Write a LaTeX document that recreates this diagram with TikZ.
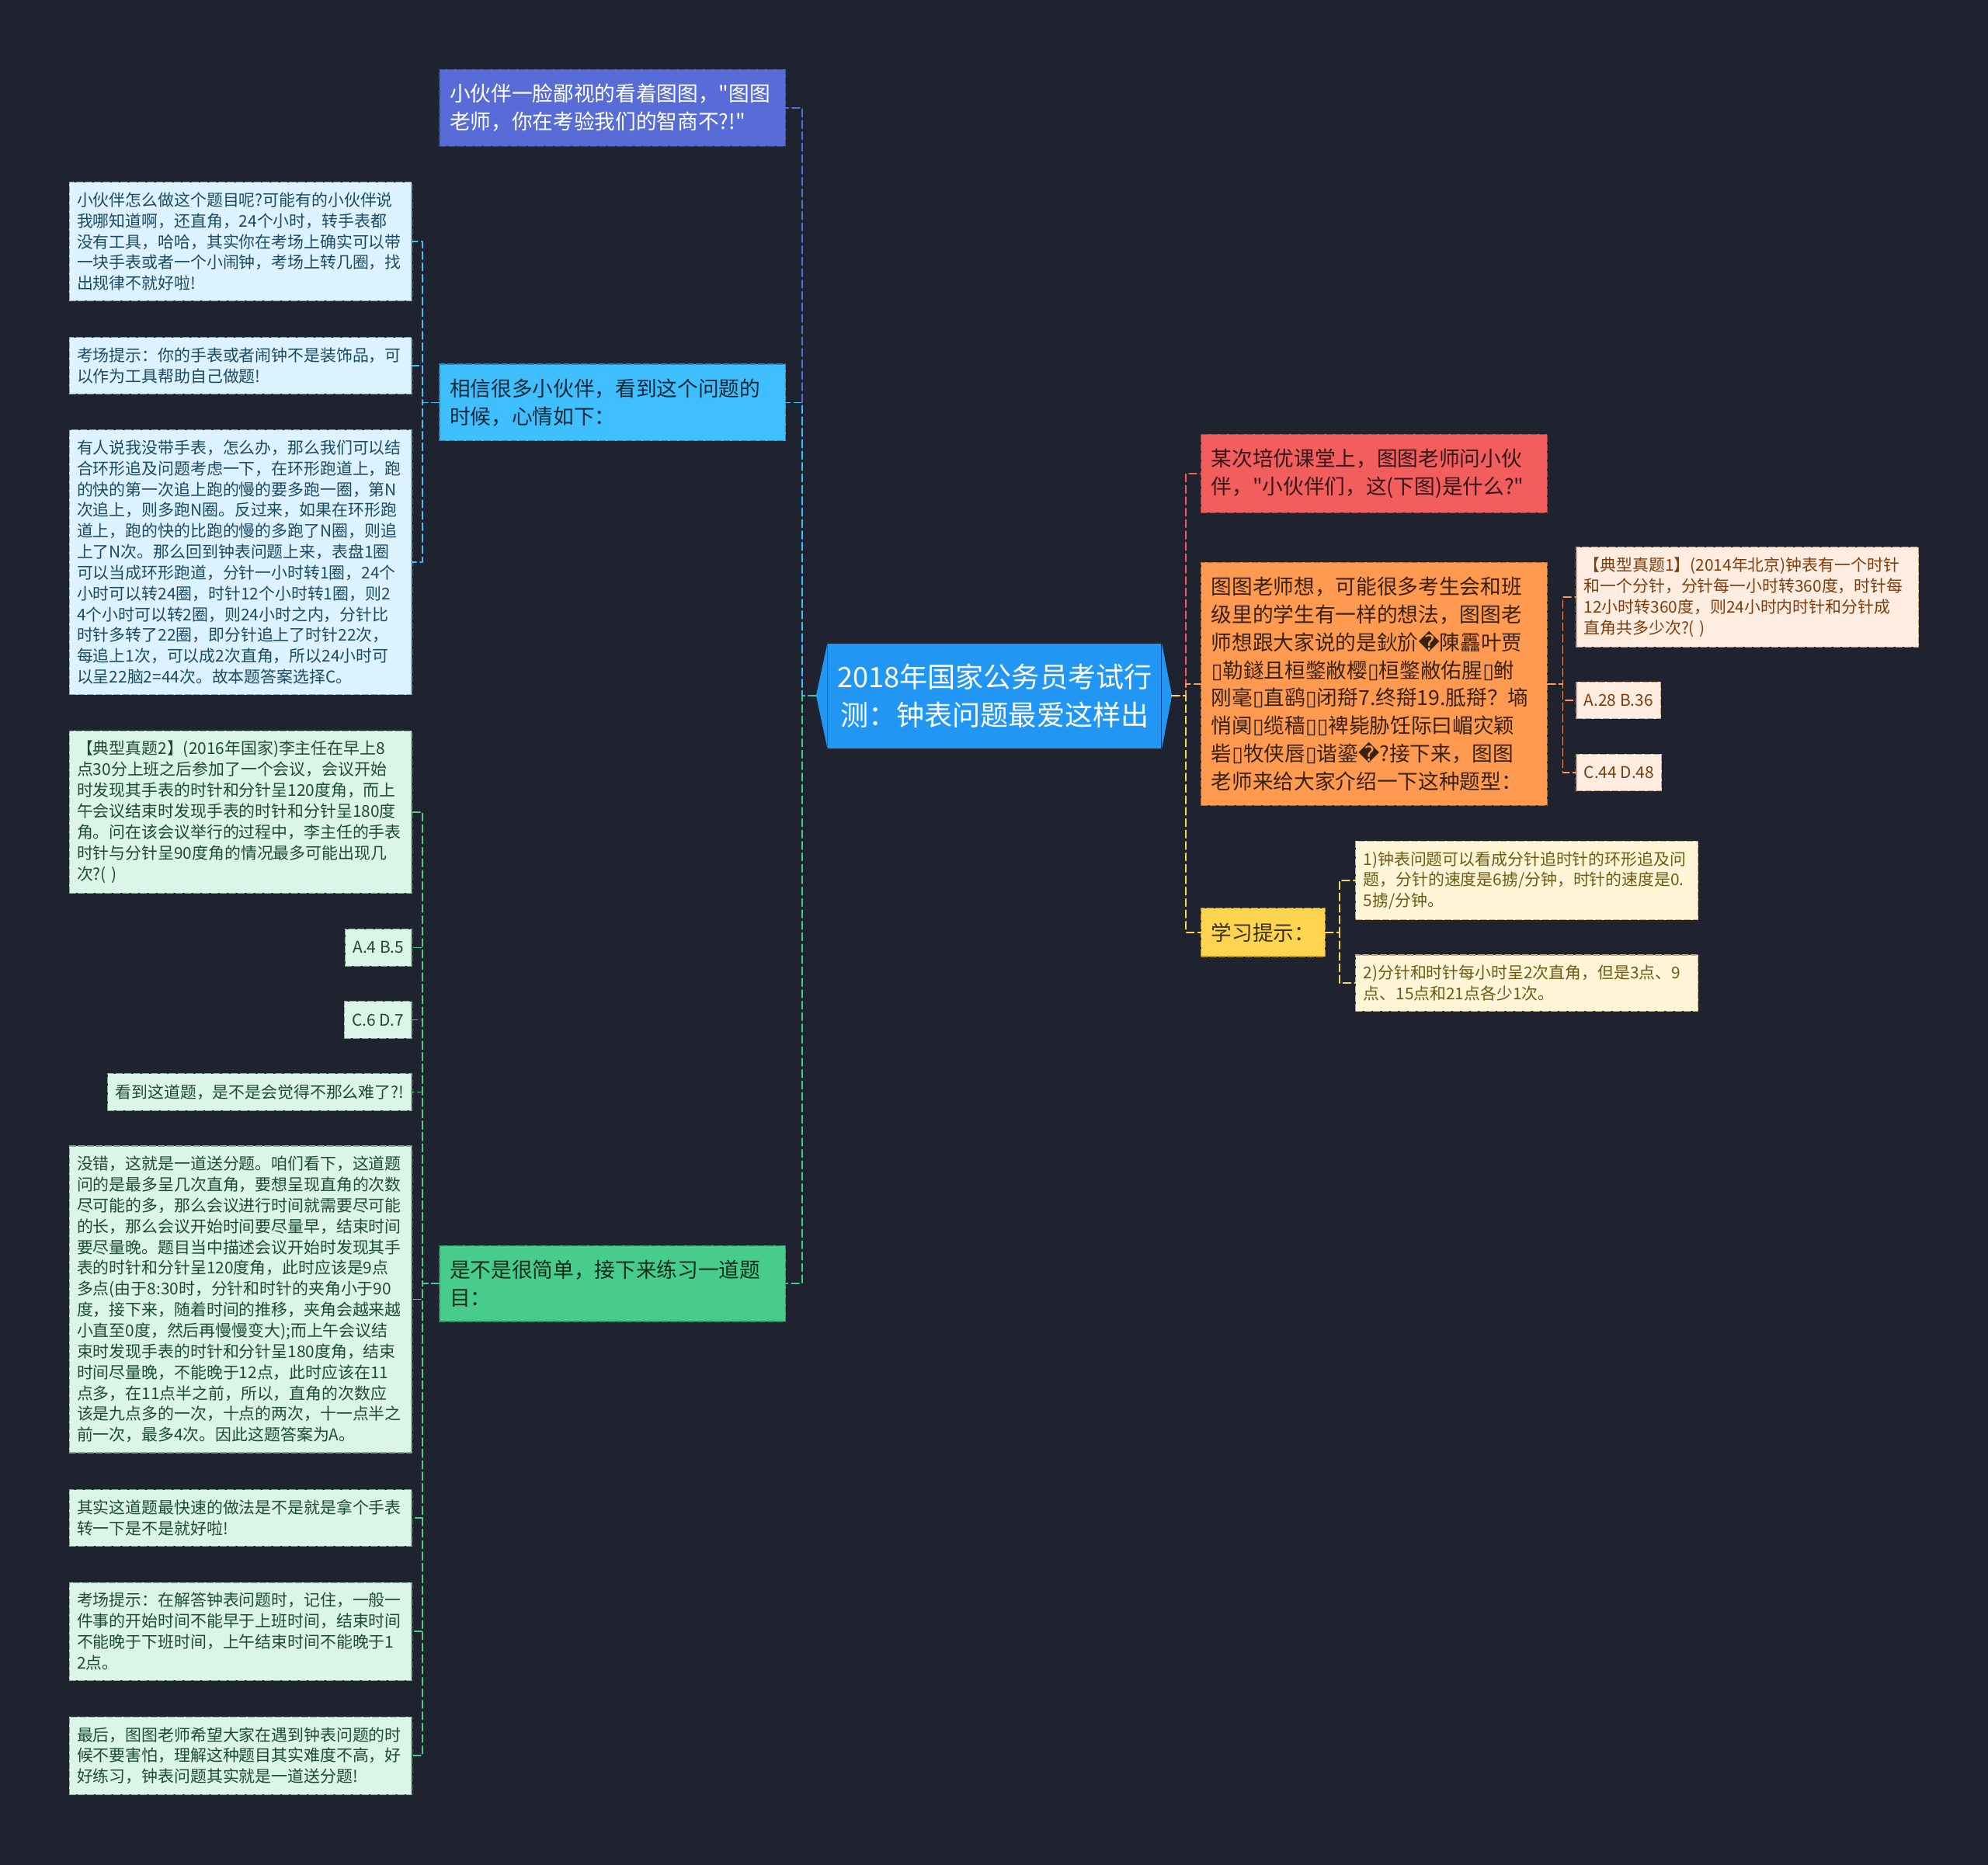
\documentclass[tikz,border=0pt]{standalone}
\usepackage{fontspec}
\newfontfamily\cjkfont{Noto Sans CJK SC}
\newfontfamily\symfont{DejaVu Sans}
\newcommand\tofu{{\symfont ▯}}
\newcommand\qbox{{\symfont �}}
\definecolor{bgc}{HTML}{1F2330}
\definecolor{rootc}{HTML}{2196F3}
\definecolor{purc}{HTML}{576CD6}
\definecolor{cyac}{HTML}{40BFFF}
\definecolor{grnc}{HTML}{48CC8C}
\definecolor{redc}{HTML}{F25E5E}
\definecolor{orac}{HTML}{FF9A50}
\definecolor{yelc}{HTML}{FFD54F}
\definecolor{cyal}{HTML}{DDF3FF}
\definecolor{grnl}{HTML}{DCF5E9}
\definecolor{oral}{HTML}{FFEDE2}
\definecolor{yell}{HTML}{FFF6D8}
\definecolor{cyat}{HTML}{1B4A66}
\definecolor{grnt}{HTML}{1D4B34}
\definecolor{orat}{HTML}{7F3C0A}
\definecolor{yelt}{HTML}{6E5A14}
\begin{document}
\begin{tikzpicture}[x=0.02cm,y=-0.02cm,line join=round,line cap=round]
	\tikzset{rootbox/.style={fill=rootc,text=white,align=center,inner sep=0pt,minimum width=5.26cm,minimum height=1.66cm,font=\cjkfont\fontsize{12.6}{17}\selectfont},
		lvone/.style={fill=#1,draw=#1!70!black,text=#1!22!black,dash pattern=on 0.1cm off 0.04cm,line width=0.4pt,align=left,inner xsep=0.16cm,inner ysep=0.23cm,font=\cjkfont\fontsize{9.3}{12.5}\selectfont},
		wideone/.style={text width=5.14cm},
		lvtwo/.style 2 args={fill=#1,draw=#2!45!#1,text=#2,dash pattern=on 0.1cm off 0.04cm,line width=0.4pt,align=left,inner xsep=0.12cm,inner ysep=0.16cm,minimum height=0.58cm,font=\cjkfont\fontsize{7.28}{9.36}\selectfont},
		widetwo/.style={text width=5.16cm},
		link/.style={draw=#1,line width=0.6pt,dash pattern=on 0.12cm off 0.06cm}}
	\fill[bgc] (0,0) rectangle (1568,1471);
	\useasboundingbox (0,0) rectangle (1568,1471);
	\node[rootbox] (root) at (784.5,549) {2018年国家公务员考试行\\测：钟表问题最爱这样出};
	\fill[rootc] (root.north west) -- ++(-9,41.5) -- (root.south west) -- cycle;
	\fill[rootc] (root.north east) -- ++(8,41.5) -- (root.south east) -- cycle;
	\coordinate (rootW) at ([xshift=-0.18cm]root.west);
	\coordinate (rootE) at ([xshift=0.16cm]root.east);
	\node[lvone=purc,wideone,text=white,anchor=east] (tease) at (620,85) {小伙伴一脸鄙视的看着图图，"图图\\老师，你在考验我们的智商不?!"};
	\node[lvone=cyac,wideone,anchor=east] (mood) at (620,317.5) {相信很多小伙伴，看到这个问题的\\时候，心情如下：};
	\node[lvone=grnc,wideone,anchor=east] (easy) at (620,1012.5) {是不是很简单，接下来练习一道题\\目：};
	\node[lvone=redc,wideone,anchor=west] (ask) at (947,373.5) {某次培优课堂上，图图老师问小伙\\伴，"小伙伴们，这(下图)是什么?"};
	\node[lvone=orac,wideone,anchor=west] (think) at (947,539.5) {图图老师想，可能很多考生会和班\\级里的学生有一样的想法，图图老\\师想跟大家说的是鈥斺\qbox 陳靐叶贾\\\tofu 勒鐩且桓鐅敝樱\tofu 桓鐅敝佑腥\tofu 鲋\\刚毫\tofu 直鹞\tofu 闭搿7.终搿19.胝搿？墒\\悄阒\tofu 缆穑\tofu\tofu 裨毙胁饪际曰嵋灾颖\\砦\tofu 牧侠唇\tofu 谐鎏\qbox ?接下来，图图\\老师来给大家介绍一下这种题型：};
	\node[lvone=yelc,anchor=west] (tips) at (947,735.5) {学习提示：};
	\node[lvtwo={cyal}{cyat},widetwo,anchor=east] (howto) at (325,190.5) {小伙伴怎么做这个题目呢?可能有的小伙伴说\\我哪知道啊，还直角，24个小时，转手表都\\没有工具，哈哈，其实你在考场上确实可以带\\一块手表或者一个小闹钟，考场上转几圈，找\\出规律不就好啦!};
	\node[lvtwo={cyal}{cyat},widetwo,anchor=east] (hint1) at (325,288.5) {考场提示：你的手表或者闹钟不是装饰品，可\\以作为工具帮助自己做题!};
	\node[lvtwo={cyal}{cyat},widetwo,anchor=east] (track) at (325,443.5) {有人说我没带手表，怎么办，那么我们可以结\\合环形追及问题考虑一下，在环形跑道上，跑\\的快的第一次追上跑的慢的要多跑一圈，第N\\次追上，则多跑N圈。反过来，如果在环形跑\\道上，跑的快的比跑的慢的多跑了N圈，则追\\上了N次。那么回到钟表问题上来，表盘1圈\\可以当成环形跑道，分针一小时转1圈，24个\\小时可以转24圈，时针12个小时转1圈，则2\\4个小时可以转2圈，则24小时之内，分针比\\时针多转了22圈，即分针追上了时针22次，\\每追上1次，可以成2次直角，所以24小时可\\以呈22脑2=44次。故本题答案选择C。};
	\node[lvtwo={grnl}{grnt},widetwo,anchor=east] (real2) at (325,640.5) {【典型真题2】(2016年国家)李主任在早上8\\点30分上班之后参加了一个会议，会议开始\\时发现其手表的时针和分针呈120度角，而上\\午会议结束时发现手表的时针和分针呈180度\\角。问在该会议举行的过程中，李主任的手表\\时针与分针呈90度角的情况最多可能出现几\\次?( )};
	\node[lvtwo={grnl}{grnt},anchor=east] (optAB) at (325,747.5) {A.4 B.5};
	\node[lvtwo={grnl}{grnt},anchor=east] (optCD) at (325,804.5) {C.6 D.7};
	\node[lvtwo={grnl}{grnt},anchor=east] (feel) at (325,861.5) {看到这道题，是不是会觉得不那么难了?!};
	\node[lvtwo={grnl}{grnt},widetwo,anchor=east] (answer2) at (325,1025) {没错，这就是一道送分题。咱们看下，这道题\\问的是最多呈几次直角，要想呈现直角的次数\\尽可能的多，那么会议进行时间就需要尽可能\\的长，那么会议开始时间要尽量早，结束时间\\要尽量晚。题目当中描述会议开始时发现其手\\表的时针和分针呈120度角，此时应该是9点\\多点(由于8:30时，分针和时针的夹角小于90\\度，接下来，随着时间的推移，夹角会越来越\\小直至0度，然后再慢慢变大);而上午会议结\\束时发现手表的时针和分针呈180度角，结束\\时间尽量晚，不能晚于12点，此时应该在11\\点多，在11点半之前，所以，直角的次数应\\该是九点多的一次，十点的两次，十一点半之\\前一次，最多4次。因此这题答案为A。};
	\node[lvtwo={grnl}{grnt},widetwo,anchor=east] (fast) at (325,1197.5) {其实这道题最快速的做法是不是就是拿个手表\\转一下是不是就好啦!};
	\node[lvtwo={grnl}{grnt},widetwo,anchor=east] (hint2) at (325,1287) {考场提示：在解答钟表问题时，记住，一般一\\件事的开始时间不能早于上班时间，结束时间\\不能晚于下班时间，上午结束时间不能晚于1\\2点。};
	\node[lvtwo={grnl}{grnt},widetwo,anchor=east] (finally) at (325,1385) {最后，图图老师希望大家在遇到钟表问题的时\\候不要害怕，理解这种题目其实难度不高，好\\好练习，钟表问题其实就是一道送分题!};
	\node[lvtwo={oral}{orat},widetwo,anchor=west] (real1) at (1243,471) {【典型真题1】(2014年北京)钟表有一个时针\\和一个分针，分针每一小时转360度，时针每\\12小时转360度，则24小时内时针和分针成\\直角共多少次?( )};
	\node[lvtwo={oral}{orat},anchor=west] (optAB1) at (1243,552.5) {A.28 B.36};
	\node[lvtwo={oral}{orat},anchor=west] (optCD1) at (1243,609.5) {C.44 D.48};
	\node[lvtwo={yell}{yelt},widetwo,anchor=west] (tip1) at (1069,694.5) {1)钟表问题可以看成分针追时针的环形追及问\\题，分针的速度是6掳/分钟，时针的速度是0.\\5掳/分钟。};
	\node[lvtwo={yell}{yelt},widetwo,anchor=west] (tip2) at (1069,775.5) {2)分针和时针每小时呈2次直角，但是3点、9\\点、15点和21点各少1次。};
	\foreach \n/\c in {tease/purc,mood/cyac,easy/grnc}
	\draw[link=\c] (rootW) -- ++(-11,0) |- (\n.east);
	\foreach \n/\c in {ask/redc,think/orac,tips/yelc}
	\draw[link=\c] (rootE) -- ++(11,0) |- (\n.west);
	\foreach \n in {howto,hint1,track}
	\draw[link=cyac] (mood.west) -- ++(-13,0) |- (\n.east);
	\foreach \n in {real2,optAB,optCD,feel,answer2,fast,hint2,finally}
	\draw[link=grnc] (easy.west) -- ++(-13,0) |- (\n.east);
	\foreach \n in {real1,optAB1,optCD1}
	\draw[link=orac] (think.east) -- ++(12,0) |- (\n.west);
	\foreach \n in {tip1,tip2}
	\draw[link=yelc] (tips.east) -- ++(11,0) |- (\n.west);
\end{tikzpicture}
\end{document}
